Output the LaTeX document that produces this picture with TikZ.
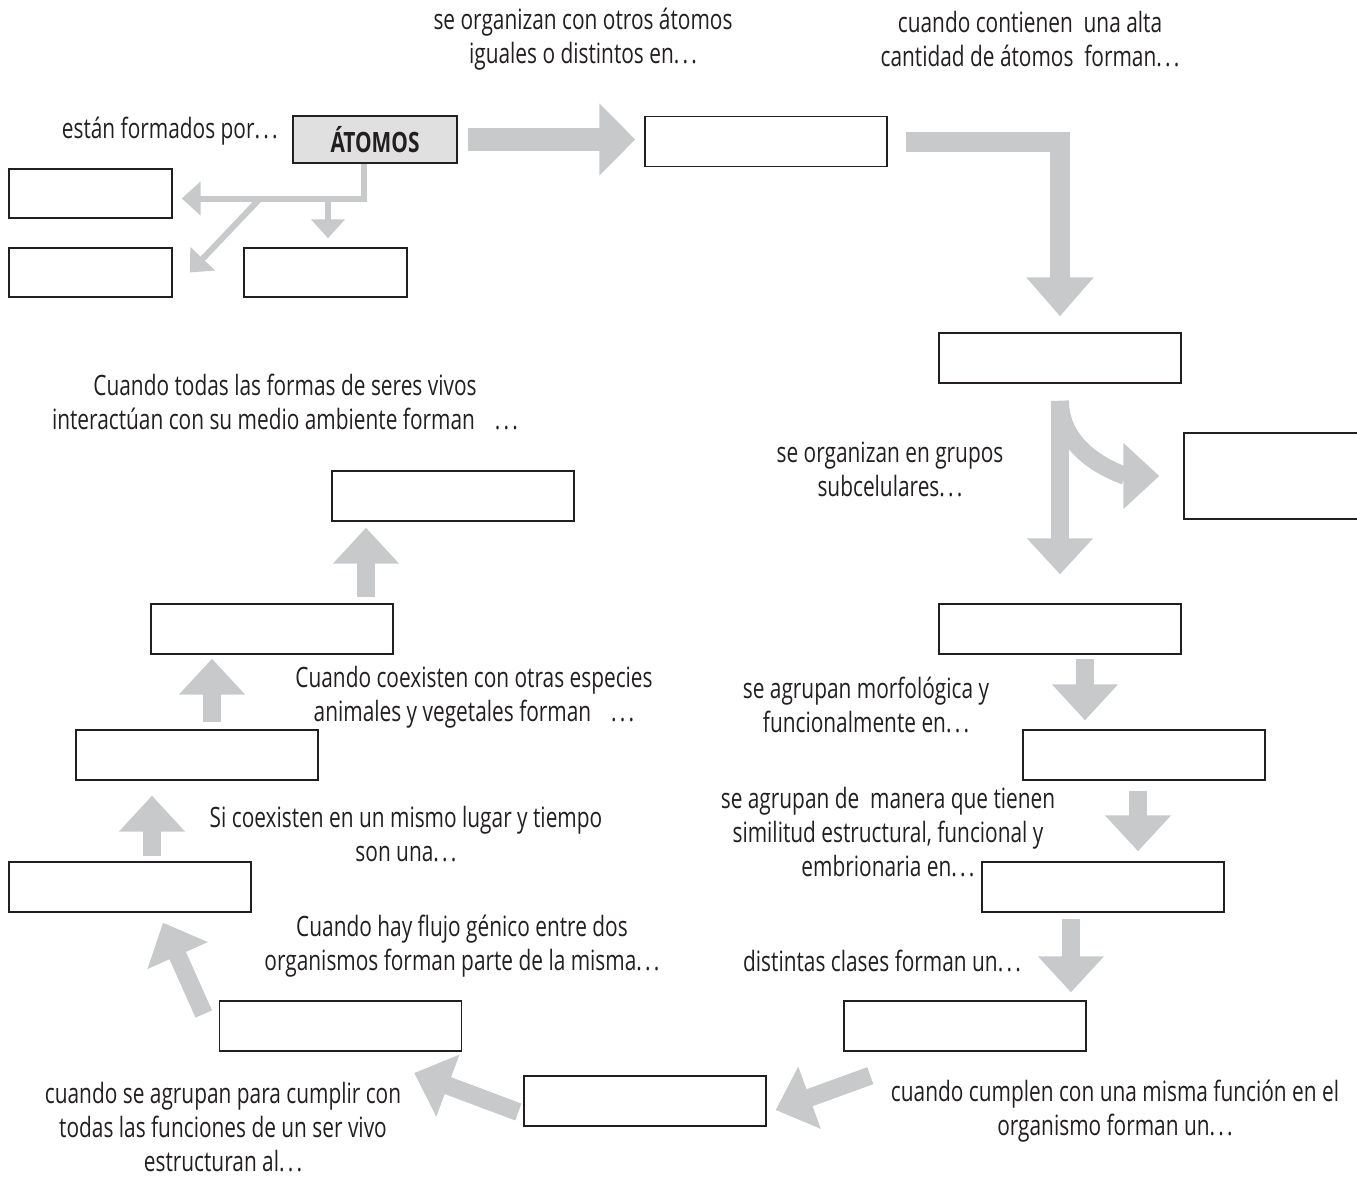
\documentclass[tikz,border=0pt]{standalone}
\usepackage{fontspec}
\setmainfont[FakeStretch=0.745]{Open Sans}
\usepackage{tikz}
\usetikzlibrary{arrows.meta, positioning, calc}
\definecolor{arrowgray}{HTML}{C8C9CB}
\definecolor{boxgray}{HTML}{E0E0E0}
\definecolor{inkgray}{HTML}{231F20}
\newcommand{\etc}{.\kern1.6pt.\kern1.6pt.}

\begin{document}
\begin{tikzpicture}[
  x=0.5pt, y=-0.5pt,
  every node/.style={font=\fontsize{14}{17}\selectfont, text=inkgray},
  blank/.style={draw=inkgray, line width=0.7pt, fill=white, minimum width=121pt, minimum height=25pt, inner sep=0pt},
  smallblank/.style={blank, minimum width=81.5pt, minimum height=24.5pt},
  note/.style={align=center, inner sep=0pt},
  fat/.style={draw=arrowgray, line width=9pt, -{Triangle[length=18pt, width=32pt]}},
  fatter/.style={draw=arrowgray, line width=11.5pt, -{Triangle[length=18pt, width=35pt]}},
  slim/.style={draw=arrowgray, line width=3pt, -{Triangle[length=9.5pt, width=16.5pt]}},
]
\useasboundingbox (0,0) rectangle (1357,1178);

% Boxes
\node[blank, fill=boxgray, minimum width=82pt, minimum height=23.5pt, font=\fontsize{14}{17}\selectfont\bfseries] (atomos) at (375,139.5) {ÁTOMOS};
\node[smallblank] (partA) at (90.5,193.5) {};
\node[smallblank] (partB) at (90.5,272.5) {};
\node[smallblank] (partC) at (325.5,272.5) {};
\node[blank] (molec) at (766,141.5) {};
\node[blank] (macro) at (1060,358) {};
\node[blank, minimum width=98pt, minimum height=43pt] (organelo) at (1282,476) {};
\node[blank] (celula) at (1060,629) {};
\node[blank] (tejido) at (1144,755) {};
\node[blank] (organo) at (1103,887) {};
\node[blank] (sistema) at (965,1026) {};
\node[blank] (aparato) at (645,1101) {};
\node[blank] (organismo) at (340.5,1026) {};
\node[blank] (poblacion) at (130,887) {};
\node[blank] (comunidad) at (197,755) {};
\node[blank] (ecosistema) at (272,629) {};
\node[blank] (biosfera) at (453,496) {};

% Texts
\node[note] (t1) at (583,39) {se organizan con otros átomos\\iguales o distintos en\etc};
\node[note] (t2) at (1030,39) {cuando contienen\ \ una alta\\cantidad de átomos\ \ forman\etc};
\node[note, anchor=east] (t3) at (278,131) {están formados por\etc};
\node[note] (t4) at (285,402) {Cuando todas las formas de seres vivos\\interactúan con su medio ambiente forman\hspace{10pt}\etc};
\node[note] (t5) at (890,469) {se organizan en grupos\\subcelulares\etc};
\node[note] (t6) at (866,705) {se agrupan morfológica y\\funcionalmente en\etc};
\node[note] (t7) at (474,697) {Cuando coexisten con otras especies\\animales y vegetales forman\hspace{10pt}\etc};
\node[note] (t8) at (888,832) {se agrupan de\ \ manera que tienen\\similitud estructural, funcional y\\embrionaria en\etc};
\node[note] (t9) at (406,834) {Si coexisten en un mismo lugar y tiempo\\son una\etc};
\node[note] (t10) at (462,946) {Cuando hay flujo génico entre dos\\organismos forman parte de la misma\etc};
\node[note] (t11) at (882,961) {distintas clases forman un\etc};
\node[note] (t12) at (1115,1111) {cuando cumplen con una misma función en el\\organismo forman un\etc};
\node[note] (t13) at (223,1127) {cuando se agrupan para cumplir con\\todas las funciones de un ser vivo\\estructuran al\etc};

% Arrows from atoms
\coordinate (fork1) at (328,198.5);
\coordinate (fork2) at (260,198.5);
\draw[slim, shorten >=4.5pt] ([xshift=-5.5pt]atomos.south) |- ([yshift=-2.5pt]partA.east);
\draw[slim, shorten >=4.5pt] (fork1) -- (fork1 |- partC.north);
\draw[slim] (fork2) -- ($(partB.east)+(17,0)$);
\draw[fatter, shorten <=5pt, shorten >=4.5pt] (atomos.east) -- (atomos.east -| molec.west);

% Right side, going down
\draw[fat, line width=10pt, -{Triangle[length=19.5pt, width=32.5pt]}, shorten <=9pt, shorten >=8pt] (molec.east) -| (macro.north);
\draw[fat, shorten <=8.5pt, shorten >=14.5pt] (macro.south) -- (celula.north);
\draw[fat, shorten >=12pt] ([yshift=-8.5pt]macro.south) to[out=-90, in=180] (organelo.west);
\draw[fat, shorten <=2pt, shorten >=4.5pt] ([xshift=12.5pt]celula.south) -- ([xshift=12.5pt]celula.south |- tejido.north);
\draw[fat, shorten <=5pt, shorten >=5pt] ([xshift=-3pt]tejido.south) -- ([xshift=-3pt]tejido.south |- organo.north);
\draw[fat, shorten <=3pt, shorten >=4pt] ([xshift=-16pt]organo.south) -- ([xshift=-16pt]organo.south |- sistema.north);

% Bottom, going left
\draw[fat] ($(sistema.south west)+(27,24)$) -- ($(aparato.east)+(9,9)$);
\draw[fat] ($(aparato.west)+(-5,11)$) -- ($(organismo.east)+(-48,47)$);
\draw[fat] ($(organismo.west)+(-15,-12)$) -- ($(poblacion.south)+(33,10)$);

% Left side, going up
\draw[fat, shorten <=2.5pt, shorten >=7.5pt] ([xshift=11pt]poblacion.north) -- ([xshift=11pt]poblacion.north |- comunidad.south);
\draw[fat, shorten <=3.5pt, shorten >=2pt] ([xshift=7.5pt]comunidad.north) -- ([xshift=7.5pt]comunidad.north |- ecosistema.south);
\draw[fat, shorten <=3pt, shorten >=3pt] ([xshift=47pt]ecosistema.north) -- ([xshift=47pt]ecosistema.north |- biosfera.south);

\end{tikzpicture}
\end{document}
